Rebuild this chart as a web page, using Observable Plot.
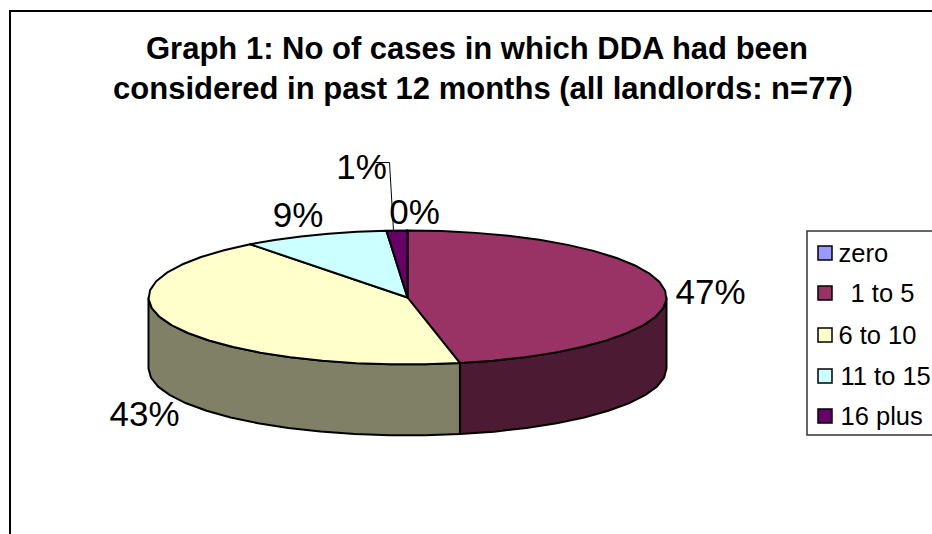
<!DOCTYPE html>
<html>
<head>
<meta charset="utf-8">
<style>
html,body{margin:0;padding:0;background:#fff}
svg{display:block}
</style>
<script src="https://cdn.jsdelivr.net/npm/d3@7"></script>
<script src="https://cdn.jsdelivr.net/npm/@observablehq/plot@0.6"></script>
</head>
<body>
<script>
// Data
const categories = ["zero", " 1 to 5", "6 to 10", "11 to 15", "16 plus"];
const counts = [0, 36, 33, 7, 1];
const percentLabels = ["0%", "47%", "43%", "9%", "1%"];
const titleLines = [
  "Graph 1: No of cases in which DDA had been",
  "considered in past 12 months (all landlords: n=77)"
];

// Styles
const topColors = ["#9999ff", "#993366", "#ffffcc", "#ccffff", "#660066"];
const wallColors = ["#4d1a33", "#808066"];   // darkened 1 to 5, 6 to 10

// Layout
const W = 932, H = 534;
const pie = {cx: 407, cy: 297, rx: 259, ry: 67, depth: 71};
const labelPos = [
  {x: 414, y: 225}, {x: 710, y: 305}, {x: 144, y: 427}, {x: 297.5, y: 228}, {x: 361, y: 180}
];
const titlePos = [{x: 476.5, y: 58}, {x: 482.5, y: 98}];
const legendBox = {x1: 807, x2: 934, y1: 231, y2: 435};
const legendRows = [253, 293, 335, 376, 416];
const legendTextX = [838, 843, 838, 840, 840];

const total = d3.sum(counts);
const STEP = 8;
function rim(a0, a1, dy = 0) {
  const n = Math.max(1, Math.ceil(Math.abs(a1 - a0) / STEP));
  return d3.range(n + 1).map(i => {
    const a = (a0 + (a1 - a0) * i / n) * Math.PI / 180;
    return {x: pie.cx + pie.rx * Math.sin(a), y: pie.cy - pie.ry * Math.cos(a) + dy};
  });
}

// Angles from values
let acc = 0;
const slices = categories.map((c, i) => {
  const a0 = acc / total * 360;
  acc += counts[i];
  return {cat: c, a0, a1: acc / total * 360};
});

const topPts = slices.flatMap(s => {
  const arc = rim(s.a0, s.a1);
  const ring = [{x: pie.cx, y: pie.cy}, ...arc, {x: pie.cx, y: pie.cy}];
  return ring.map(p => ({...p, cat: s.cat}));
});

function wall(a0, a1) {
  const top = rim(a0, a1), bottom = rim(a1, a0, pie.depth);
  return [...top, ...bottom, top[0]];
}
const rightWall = wall(90, slices[1].a1);
const leftWall = wall(slices[2].a0, 270);

const labels = percentLabels.map((t, i) => ({t, ...labelPos[i]}));
const legend = categories.map((c, i) => ({cat: c, y: legendRows[i], tx: legendTextX[i]}));
const titles = titleLines.map((t, i) => ({t, ...titlePos[i]}));
const FONT = "Liberation Sans, Arial, sans-serif";

const chart = Plot.plot({
  width: W, height: H,
  margin: 0,
  x: {domain: [0, W], range: [0, W], axis: null},
  y: {domain: [0, H], range: [0, H], axis: null},
  color: {domain: categories, range: topColors},
  style: {fontFamily: FONT, background: "#fff"},
  marks: [
    // chart frame (runs off the right and bottom of the picture)
    Plot.ruleX([9.5], {y1: 10, y2: H, stroke: "#000", strokeWidth: 2}),
    Plot.ruleY([10.5], {x1: 9, x2: W, stroke: "#000", strokeWidth: 2}),
    // walls
    Plot.line(leftWall, {x: "x", y: "y", fill: wallColors[1], stroke: "#000", strokeWidth: 2}),
    Plot.line(rightWall, {x: "x", y: "y", fill: wallColors[0], stroke: "#000", strokeWidth: 2}),
    // top
    Plot.line(topPts, {x: "x", y: "y", z: "cat", fill: "cat", stroke: "#000", strokeWidth: 2}),
    // leader for 1%
    Plot.line([{x: 375, y: 162}, {x: 389, y: 162}, {x: 393, y: 230}],
      {x: "x", y: "y", stroke: "#000", strokeWidth: 1}),
    // percent labels
    Plot.text(labels, {x: "x", y: "y", text: "t", fontSize: 35, fill: "#000", lineAnchor: "bottom", dy: -2}),
    // title
    Plot.text(titles, {x: "x", y: "y", text: "t", fontSize: 31, fontWeight: "bold", fill: "#000", lineAnchor: "bottom", dy: 0}),
    // legend
    Plot.rect([legendBox], {x1: "x1", x2: "x2", y1: "y1", y2: "y2", fill: "#fff", stroke: "#333", strokeWidth: 1.5}),
    Plot.rect(legend, {x1: () => 818, x2: () => 832, y1: d => d.y - 7, y2: d => d.y + 7, fill: "cat", stroke: "#000", strokeWidth: 1.5}),
    Plot.text(legend, {x: "tx", y: "y", text: "cat", textAnchor: "start", fontSize: 25.5, fill: "#000"})
  ]
});
document.body.appendChild(chart);
</script>
</body>
</html>
